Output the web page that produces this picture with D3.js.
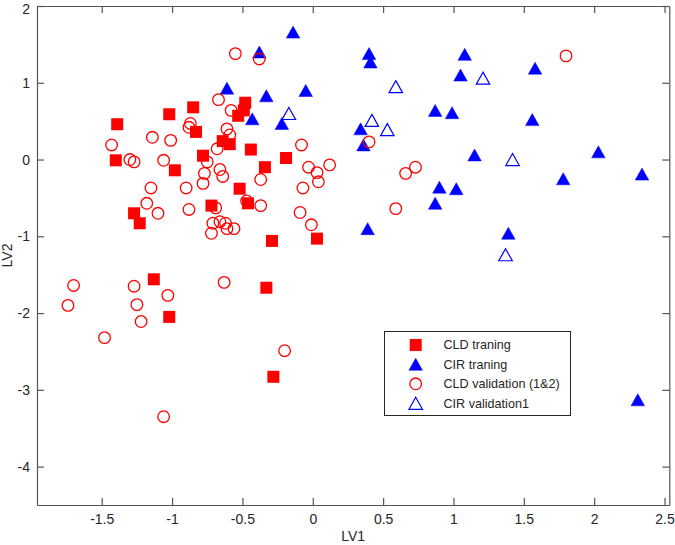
<!DOCTYPE html>
<html>
<head>
<meta charset="utf-8">
<script src="https://cdn.jsdelivr.net/npm/d3@7"></script>
<style>
  html, body { margin: 0; padding: 0; background: #fff; }
  svg { display: block; font-family: "Liberation Sans", Arial, sans-serif; }
</style>
</head>
<body>
<svg id="chart" width="675" height="545"></svg>
<script>
// ---- data (LV1, LV2) ----
const cldTraining = [
  [-1.39, 0.46], [-1.40, -0.01], [-1.02, 0.59], [-0.85, 0.68], [-0.83, 0.36],
  [-0.48, 0.74], [-0.49, 0.64], [-0.53, 0.57], [-0.64, 0.24], [-0.59, 0.20],
  [-0.44, 0.13], [-0.78, 0.05], [-0.98, -0.14], [-0.34, -0.10], [-0.19, 0.02],
  [-0.52, -0.38], [-1.27, -0.70], [-1.23, -0.83], [-0.72, -0.60], [-0.46, -0.57],
  [-0.29, -1.06], [0.03, -1.03], [-1.13, -1.56], [-1.02, -2.05], [-0.33, -1.67],
  [-0.28, -2.83]
];
const cirTraining = [
  [-0.14, 1.66], [-0.38, 1.40], [-0.61, 0.93], [-0.33, 0.83], [-0.05, 0.90],
  [-0.43, 0.53], [-0.22, 0.47], [0.40, 1.38], [0.41, 1.27], [1.08, 1.37],
  [1.05, 1.10], [1.58, 1.19], [0.87, 0.64], [0.99, 0.61], [1.56, 0.52],
  [0.34, 0.40], [0.36, 0.19], [1.15, 0.06], [2.03, 0.10], [1.78, -0.25],
  [2.34, -0.19], [0.90, -0.36], [1.02, -0.38], [0.87, -0.57], [0.39, -0.90],
  [1.39, -0.96], [2.31, -3.13]
];
const cldValidation = [
  [-0.55, 1.38], [-0.38, 1.31], [-0.67, 0.78], [-0.58, 0.64], [-0.87, 0.47],
  [-0.88, 0.42], [-1.14, 0.29], [-1.01, 0.25], [-1.43, 0.19], [-0.61, 0.40],
  [-0.59, 0.32], [-0.68, 0.14], [-0.08, 0.19], [-1.30, 0.00], [-1.27, -0.03],
  [-1.06, -0.01], [-0.75, -0.03], [-0.66, -0.13], [-0.64, -0.22], [-0.77, -0.18],
  [-0.78, -0.31], [-0.37, -0.26], [-0.03, -0.10], [0.03, -0.17], [0.12, -0.07],
  [0.04, -0.29], [-0.07, -0.37], [-1.15, -0.37], [-0.90, -0.37], [-1.18, -0.57],
  [-1.10, -0.70], [-0.88, -0.65], [-0.69, -0.63], [-0.47, -0.54], [-0.37, -0.60],
  [-0.09, -0.69], [-0.01, -0.85], [-0.71, -0.83], [-0.66, -0.81], [-0.62, -0.83],
  [-0.61, -0.90], [-0.56, -0.90], [-0.72, -0.96], [-1.70, -1.64], [-1.74, -1.90],
  [-1.27, -1.65], [-1.25, -1.89], [-1.22, -2.11], [-1.03, -1.77], [-1.48, -2.32],
  [-0.63, -1.60], [-0.20, -2.49], [-1.06, -3.35], [0.40, 0.23], [0.73, -0.10],
  [0.66, -0.18], [1.80, 1.35], [0.59, -0.64]
];
const cirValidation = [
  [-0.17, 0.60], [0.59, 0.95], [1.21, 1.06], [0.42, 0.51], [0.53, 0.39],
  [1.42, 0.00], [1.37, -1.24]
];
const xTicks = [-1.5, -1, -0.5, 0, 0.5, 1, 1.5, 2, 2.5];
const yTicks = [-4, -3, -2, -1, 0, 1, 2];
const legendLabels = ["CLD traning", "CIR traning", "CLD validation (1&2)", "CIR validation1"];

// ---- layout ----
const svg = d3.select("#chart");
const pLeft = 37, pRight = 669.3, pTop = 6, pBottom = 505;
const x = d3.scaleLinear().domain([-1.96, 2.534]).range([pLeft, pRight]);
const y = d3.scaleLinear().domain([-4.5, 2]).range([pBottom, pTop]);
const axisColor = "#555";
const textColor = "#262626";
const red = "#ff0000", blue = "#0000ff";
const fmt = d => String(d);

function styleAxis(g) {
  g.selectAll(".domain").attr("stroke", axisColor).attr("stroke-width", 1.2);
  g.selectAll(".tick line").attr("stroke", axisColor).attr("stroke-width", 1.2);
  g.selectAll(".tick text").attr("fill", textColor).attr("font-size", 14)
    .attr("font-family", "'Liberation Sans', Arial, sans-serif");
}

svg.append("g").attr("transform", `translate(0,${pBottom})`)
  .call(d3.axisBottom(x).tickValues(xTicks).tickFormat(fmt).tickSizeInner(-7).tickSizeOuter(0).tickPadding(9))
  .call(styleAxis);
svg.append("g").attr("transform", `translate(0,${pTop})`)
  .call(d3.axisTop(x).tickValues(xTicks).tickFormat("").tickSizeInner(-7).tickSizeOuter(0))
  .call(styleAxis);
const yAxisG = svg.append("g").attr("transform", `translate(${pLeft},0)`)
  .call(d3.axisLeft(y).tickValues(yTicks).tickFormat(fmt).tickSizeInner(-7).tickSizeOuter(0).tickPadding(7))
  .call(styleAxis);
// keep the top label ("2") fully inside the picture
yAxisG.selectAll(".tick text").filter(d => d === yTicks[yTicks.length - 1]).attr("dy", "0.5em");
svg.append("g").attr("transform", `translate(${pRight},0)`)
  .call(d3.axisRight(y).tickValues(yTicks).tickFormat("").tickSizeInner(-7).tickSizeOuter(0))
  .call(styleAxis);

// axis labels
svg.append("text").attr("x", (pLeft + pRight) / 2).attr("y", 541)
  .attr("text-anchor", "middle").attr("font-size", 14).attr("fill", textColor).text("LV1");
svg.append("text").attr("transform", `translate(12,${(pTop + pBottom) / 2}) rotate(-90)`)
  .attr("text-anchor", "middle").attr("font-size", 14).attr("fill", textColor).text("LV2");

// ---- marker helpers ----
const SQ = 12, TW = 13.5, TH = 12, CR = 5.8;
function triPath(cx, cy) {
  return `M${cx},${cy - TH / 2}L${cx + TW / 2},${cy + TH / 2}L${cx - TW / 2},${cy + TH / 2}Z`;
}
function drawSquares(g, data) {
  g.selectAll("rect").data(data).join("rect")
    .attr("x", d => x(d[0]) - SQ / 2).attr("y", d => y(d[1]) - SQ / 2)
    .attr("width", SQ).attr("height", SQ).attr("fill", red);
}
function drawTriangles(g, data, filled) {
  g.selectAll("path").data(data).join("path")
    .attr("d", d => triPath(x(d[0]), y(d[1])))
    .attr("fill", filled ? blue : "none")
    .attr("stroke", blue).attr("stroke-width", filled ? 0.5 : 1.2)
    .attr("stroke-linejoin", "miter");
}
function drawCircles(g, data) {
  g.selectAll("circle").data(data).join("circle")
    .attr("cx", d => x(d[0])).attr("cy", d => y(d[1])).attr("r", CR)
    .attr("fill", "none").attr("stroke", red).attr("stroke-width", 1.3);
}

drawSquares(svg.append("g"), cldTraining);
drawTriangles(svg.append("g"), cirTraining, true);
drawCircles(svg.append("g"), cldValidation);
drawTriangles(svg.append("g"), cirValidation, false);

// ---- legend ----
const lg = svg.append("g");
lg.append("rect").attr("x", 384.5).attr("y", 331.5).attr("width", 186).attr("height", 84)
  .attr("fill", "#fff").attr("stroke", "#262626").attr("stroke-width", 1);
const ly = [345, 364.3, 383.8, 403.3];
const mx = 415.7;
lg.append("rect").attr("x", mx - SQ / 2).attr("y", ly[0] - SQ / 2).attr("width", SQ).attr("height", SQ).attr("fill", red);
lg.append("path").attr("d", triPath(mx, ly[1])).attr("fill", blue).attr("stroke", blue).attr("stroke-width", 0.5);
lg.append("circle").attr("cx", mx).attr("cy", ly[2]).attr("r", CR).attr("fill", "none").attr("stroke", red).attr("stroke-width", 1.3);
lg.append("path").attr("d", triPath(mx, ly[3])).attr("fill", "none").attr("stroke", blue).attr("stroke-width", 1.2);
lg.selectAll("text.lab").data(legendLabels).join("text").attr("class", "lab")
  .attr("x", 443.5).attr("y", (d, i) => ly[i]).attr("dy", "0.35em")
  .attr("font-size", 12.6).attr("fill", textColor).text(d => d);
</script>
</body>
</html>
